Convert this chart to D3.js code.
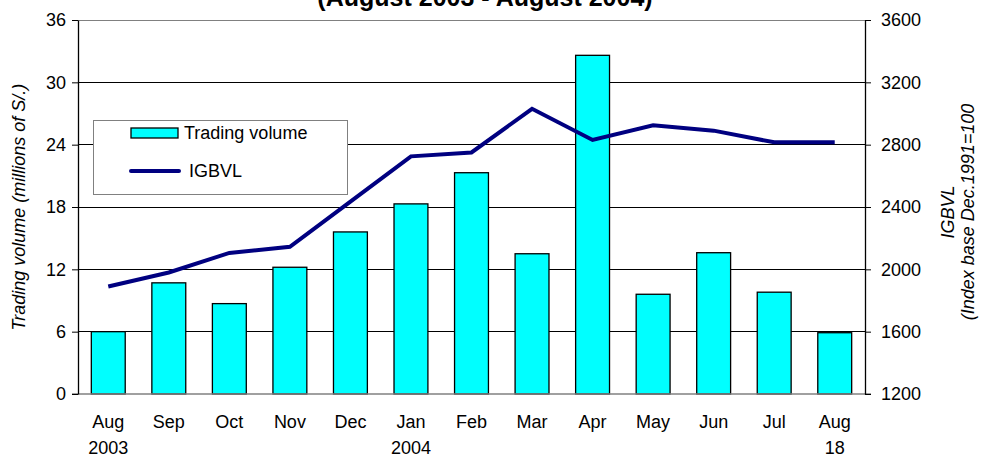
<!DOCTYPE html>
<html>
<head>
<meta charset="utf-8">
<script src="https://cdn.jsdelivr.net/npm/d3@7"></script>
<style>
  html, body { margin: 0; padding: 0; background: #fff; }
  svg { display: block; font-family: "Liberation Sans", Arial, sans-serif; }
</style>
</head>
<body>
<svg id="chart" width="983" height="459"></svg>
<script>
const months = ["Aug", "Sep", "Oct", "Nov", "Dec", "Jan", "Feb", "Mar", "Apr", "May", "Jun", "Jul", "Aug"];
const subLabels = ["2003", "", "", "", "", "2004", "", "", "", "", "", "", "18"];
const tradingVolume = [6.0, 10.7, 8.7, 12.2, 15.6, 18.3, 21.3, 13.5, 32.6, 9.6, 13.6, 9.8, 5.9];
const igbvl = [1890, 1980, 2105, 2145, 2435, 2725, 2750, 3030, 2830, 2925, 2890, 2815, 2815];
const leftTicks = [0, 6, 12, 18, 24, 30, 36];
const rightTicks = [1200, 1600, 2000, 2400, 2800, 3200, 3600];

const svg = d3.select("#chart");
const L = 78, R = 865, T = 20, B = 394;

const x = d3.scaleBand().domain(d3.range(months.length)).range([L, R])
  .paddingInner(0.44).paddingOuter(0.22);
const yL = d3.scaleLinear().domain([0, 36]).range([B, T]);
const yR = d3.scaleLinear().domain([1200, 3600]).range([B, T]);

// gridlines
svg.append("g").selectAll("line").data(leftTicks.filter(d => d > 0))
  .join("line")
  .attr("x1", L).attr("x2", R)
  .attr("y1", d => yL(d)).attr("y2", d => yL(d))
  .attr("stroke", d => d === 36 ? "#808080" : "#000")
  .attr("stroke-width", 1)
  .attr("shape-rendering", "crispEdges");

// bars
svg.append("g").selectAll("rect").data(tradingVolume)
  .join("rect")
  .attr("x", (d, i) => x(i))
  .attr("width", x.bandwidth())
  .attr("y", d => yL(d))
  .attr("height", d => B - yL(d))
  .attr("fill", "#00FFFF")
  .attr("stroke", "#000")
  .attr("stroke-width", 1.3);

// bottom baseline
svg.append("line").attr("x1", L - 6).attr("x2", R + 6).attr("y1", B).attr("y2", B)
  .attr("stroke", "#808080").attr("stroke-width", 1.3);

// line
const line = d3.line().x((d, i) => x(i) + x.bandwidth() / 2).y(d => yR(d));
svg.append("path").datum(igbvl)
  .attr("d", line)
  .attr("fill", "none")
  .attr("stroke", "#000080")
  .attr("stroke-width", 4)
  .attr("stroke-linejoin", "miter");

// axes
const axL = svg.append("g").attr("transform", `translate(${L},0)`)
  .call(d3.axisLeft(yL).tickValues(leftTicks).tickSize(6).tickSizeOuter(0).tickPadding(6));
const axR = svg.append("g").attr("transform", `translate(${R},0)`)
  .call(d3.axisRight(yR).tickValues(rightTicks).tickFormat(d3.format("d"))
    .tickSize(6).tickSizeOuter(0).tickPadding(10));
[axL, axR].forEach(a => {
  a.selectAll("path.domain").attr("stroke", "#000").attr("stroke-width", 1.3);
  a.selectAll(".tick line").attr("stroke", "#000");
  a.selectAll(".tick text").attr("font-size", 18).attr("fill", "#000")
    .attr("font-family", "Liberation Sans, Arial, sans-serif");
});

// x labels
const xl = svg.append("g");
xl.selectAll("text.m").data(months).join("text")
  .attr("class", "m")
  .attr("x", (d, i) => x(i) + x.bandwidth() / 2)
  .attr("y", 428)
  .attr("text-anchor", "middle")
  .attr("font-size", 18)
  .text(d => d);
xl.selectAll("text.s").data(subLabels).join("text")
  .attr("class", "s")
  .attr("x", (d, i) => x(i) + x.bandwidth() / 2)
  .attr("y", 454)
  .attr("text-anchor", "middle")
  .attr("font-size", 18)
  .text(d => d);

// title (partially cut off at the top, as in the reference)
svg.append("text").attr("x", 485).attr("y", 6)
  .attr("text-anchor", "middle").attr("font-size", 25).attr("font-weight", "bold")
  .text("(August 2003 - August 2004)");

// axis titles
svg.append("text")
  .attr("transform", `translate(25,${(T + B) / 2}) rotate(-90)`)
  .attr("text-anchor", "middle").attr("font-size", 18).attr("font-style", "italic")
  .text("Trading volume (millions of S/.)");
svg.append("text")
  .attr("transform", `translate(954,212) rotate(-90)`)
  .attr("text-anchor", "middle").attr("font-size", 18).attr("font-style", "italic")
  .text("IGBVL");
svg.append("text")
  .attr("transform", `translate(974,212) rotate(-90)`)
  .attr("text-anchor", "middle").attr("font-size", 18).attr("font-style", "italic")
  .text("(Index base Dec.1991=100");

// legend
const lg = svg.append("g");
lg.append("rect").attr("x", 93.5).attr("y", 120.5).attr("width", 254).attr("height", 74)
  .attr("fill", "#fff").attr("stroke", "#808080").attr("stroke-width", 1);
lg.append("rect").attr("x", 131).attr("y", 128).attr("width", 47).attr("height", 10)
  .attr("fill", "#00FFFF").attr("stroke", "#000").attr("stroke-width", 1.3);
lg.append("text").attr("x", 184).attr("y", 139).attr("font-size", 18).text("Trading volume");
lg.append("line").attr("x1", 131).attr("x2", 179).attr("y1", 171).attr("y2", 171)
  .attr("stroke", "#000080").attr("stroke-width", 4).attr("stroke-linecap", "round");
lg.append("text").attr("x", 189).attr("y", 177).attr("font-size", 18).text("IGBVL");
</script>
</body>
</html>
